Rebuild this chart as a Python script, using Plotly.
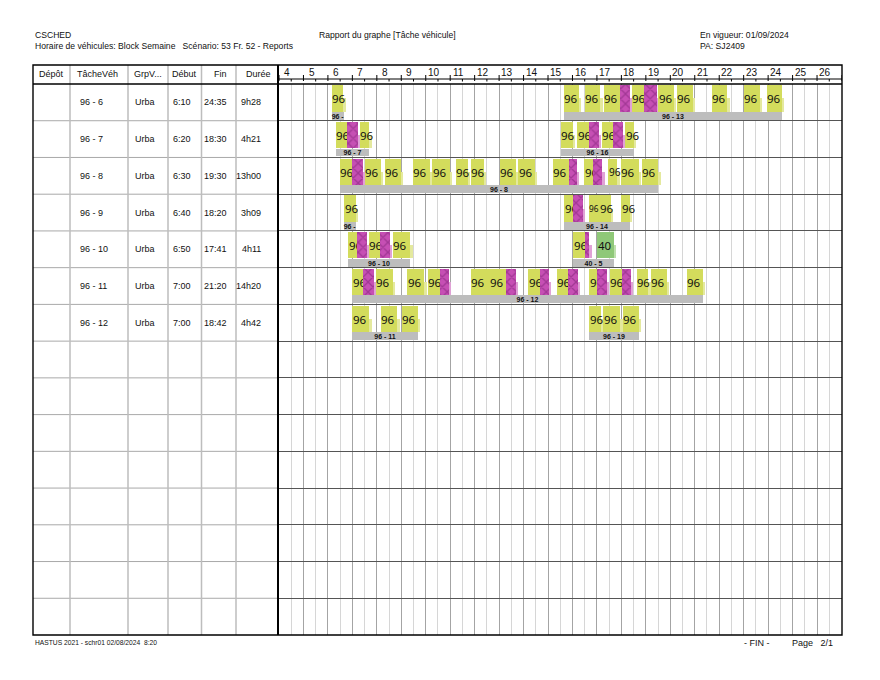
import plotly.graph_objects as go

W, H = 880, 680

# ---------------- text data ----------------
title_left = "CSCHED"
subtitle_left = "Horaire de véhicules: Block Semaine\u00a0\u00a0\u00a0Scénario: 53 Fr. 52 - Reports"
title_center = "Rapport du graphe [Tâche véhicule]"
title_right = "En vigueur: 01/09/2024"
subtitle_right = "PA: SJ2409"
footer_left = "HASTUS 2021 - schr01 02/08/2024\u00a0\u00a08:20"
footer_fin = "- FIN -"
footer_page = "Page\u00a0\u00a0\u00a02/1"

col_headers = ["Dépôt", "TâcheVéh", "GrpV...", "Début", "Fin", "Durée"]
depots = ["", "", "", "", "", "", ""]
taches = ["96 - 6", "96 - 7", "96 - 8", "96 - 9", "96 - 10", "96 - 11", "96 - 12"]
groupes = ["Urba", "Urba", "Urba", "Urba", "Urba", "Urba", "Urba"]
debuts = ["6:10", "6:20", "6:30", "6:40", "6:50", "7:00", "7:00"]
fins = ["24:35", "18:30", "19:30", "18:20", "17:41", "21:20", "18:42"]
durees = ["9h28", "4h21", "13h00", "3h09", "4h11", "14h20", "4h42"]

hour_labels = list(range(4, 27))
x_min, x_max = 4, 27
n_rows = 15

# trips per vehicle block: (start, end, line) ; line "" = haut-le-pied (hatched)
trips_96_6 = [("6:10", "6:38", "96"), ("15:38", "16:16", "96"), ("16:31", "17:08", "96"),
              ("17:17", "17:57", "96"), ("17:57", "18:22", ""), ("18:26", "18:56", "96"),
              ("18:56", "19:27", ""), ("19:31", "20:08", "96"), ("20:16", "20:55", "96"),
              ("21:42", "22:20", "96"), ("23:01", "23:40", "96"), ("23:57", "24:34", "96")]
trips_96_7 = [("6:20", "6:47", "96"), ("6:47", "7:14", ""), ("7:19", "7:41", "96"),
              ("15:31", "16:01", "96"), ("16:12", "16:41", "96"), ("16:41", "17:04", ""),
              ("17:12", "17:40", "96"), ("17:40", "18:04", ""), ("18:10", "18:30", "96")]
trips_96_8 = [("6:30", "6:58", "96"), ("6:58", "7:25", ""), ("7:31", "8:10", "96"),
              ("8:20", "8:59", "96"), ("9:29", "10:11", "96"), ("10:16", "10:59", "96"),
              ("11:14", "11:43", "96"), ("11:51", "12:22", "96"), ("13:01", "13:41", "96"),
              ("13:47", "14:28", "96"), ("15:11", "15:52", "96"), ("15:52", "16:11", ""),
              ("16:29", "16:51", "96"), ("16:51", "17:13", ""), ("17:28", "17:50", "96"),
              ("17:59", "18:42", "96"), ("18:50", "19:30", "96")]
trips_96_9 = [("6:40", "7:08", "96"), ("15:40", "16:01", "96"), ("16:01", "16:25", ""),
              ("16:40", "17:04", "96"), ("17:06", "17:34", "96"), ("18:00", "18:20", "96")]
trips_96_10 = [("6:50", "7:12", "96"), ("7:12", "7:37", ""), ("7:41", "8:08", "96"),
               ("8:08", "8:32", ""), ("8:40", "9:22", "96"), ("16:02", "16:31", "96"),
               ("16:31", "16:41", ""), ("17:01", "17:41", "40")]
trips_96_11 = [("7:00", "7:27", "96"), ("7:27", "7:53", ""), ("7:58", "8:39", "96"),
               ("9:15", "9:56", "96"), ("10:05", "10:34", "96"), ("10:34", "10:57", ""),
               ("11:51", "12:34", "96"), ("12:36", "13:17", "96"), ("13:17", "13:41", ""),
               ("14:12", "14:40", "96"), ("14:40", "15:02", ""), ("15:22", "15:50", "96"),
               ("15:50", "16:13", ""), ("16:41", "17:01", "96"), ("17:01", "17:24", ""),
               ("17:32", "18:01", "96"), ("18:01", "18:23", ""), ("18:38", "19:06", "96"),
               ("19:12", "19:52", "96"), ("20:41", "21:20", "96")]
trips_96_12 = [("7:00", "7:41", "96"), ("8:10", "8:50", "96"), ("9:01", "9:40", "96"),
               ("16:41", "17:10", "96"), ("17:16", "17:57", "96"), ("18:04", "18:42", "96")]

# route blocks (grey bars): (start, end, label)
pieces_96_6 = [("6:10", "6:40", "96 -"), ("15:38", "24:35", "96 - 13")]
pieces_96_7 = [("6:20", "7:41", "96 - 7"), ("15:31", "18:30", "96 - 16")]
pieces_96_8 = [("6:30", "19:30", "96 - 8")]
pieces_96_9 = [("6:40", "7:09", "96 -"), ("15:40", "18:20", "96 - 14")]
pieces_96_10 = [("6:50", "9:22", "96 - 10"), ("16:02", "17:41", "40 - 5")]
pieces_96_11 = [("7:00", "21:20", "96 - 12")]
pieces_96_12 = [("7:00", "9:40", "96 - 11"), ("16:41", "18:42", "96 - 19")]

trips = [trips_96_6, trips_96_7, trips_96_8, trips_96_9, trips_96_10, trips_96_11, trips_96_12]
pieces = [pieces_96_6, pieces_96_7, pieces_96_8, pieces_96_9, pieces_96_10, pieces_96_11, pieces_96_12]

# ---------------- styles ----------------
ARIAL = "Liberation Sans, Arial, sans-serif"
NARROW = "Liberation Sans Narrow, Liberation Sans, Arial, sans-serif"
BLOCKFONT = "Noto Sans, Open Sans, sans-serif"
COL = {"96": "#d3dc5c", "40": "#8fc878", "": "#c64fb4"}
SHADOW = {"96": "#e4e99e", "40": "#bfe0ae", "": "#e0a2d6"}
GREY = "#bdbdbd"
CLEAR = "rgba(0,0,0,0)"
BLOCK_FONT_SIZE = 11.5

TOP_PX, BOT_PX = 84, 635
LEFT_PX, RIGHT_PX = 279, 841.5
PX_PER_HOUR = (RIGHT_PX - LEFT_PX) / (x_max - x_min)
TEXT_SHIFT = 0.11  # hours, compensates the inner text padding of bars


def px(x):
    return x / W


def py(y):
    return 1 - y / H


def hrs(t):
    h, m = t.split(":")
    return int(h) + int(m) / 60


fig = go.Figure()

# shadows
sh_y, sh_base, sh_len, sh_col = [], [], [], []
for r, row in enumerate(trips):
    for s, e, k in row:
        sh_y.append(r + 0.57)
        sh_base.append(hrs(s) + 0.1)
        sh_len.append(hrs(e) - hrs(s))
        sh_col.append(SHADOW[k])
fig.add_trace(go.Bar(orientation="h", y=sh_y, base=sh_base, x=sh_len, width=0.36,
                     marker=dict(color=sh_col, line=dict(width=0)), hoverinfo="skip",
                     showlegend=False))

# grey route-block bars
g_y, g_base, g_len, g_txt = [], [], [], []
for r, row in enumerate(pieces):
    for s, e, lab in row:
        g_y.append(r + 0.865)
        g_base.append(hrs(s))
        g_len.append(hrs(e) - hrs(s))
        g_txt.append(lab)
fig.add_trace(go.Bar(orientation="h", y=g_y, base=g_base, x=g_len, width=0.215,
                     marker=dict(color=GREY, line=dict(width=0)), text=g_txt,
                     textposition="inside", insidetextanchor="middle", constraintext="none",
                     textangle=0,
                     textfont=dict(family=ARIAL, size=7, color="#111", weight="bold"),
                     hoverinfo="skip", showlegend=False))

# service trips (yellow / green), each followed by a transparent text carrier so
# that the next trip covers any overflowing label
t_y, t_base, t_len, t_txt, t_col, t_size = [], [], [], [], [], []
for r, row in enumerate(trips):
    labelled = [tr for tr in row if tr[2] != ""]
    for i, (s, e, k) in enumerate(labelled):
        size = BLOCK_FONT_SIZE
        if i + 1 < len(labelled):
            avail = (hrs(labelled[i + 1][0]) - hrs(s)) * PX_PER_HOUR - 1.0
            size = min(size, avail / 1.16)
        t_y += [r + 0.39, r + 0.39]
        t_base += [hrs(s), hrs(s) - TEXT_SHIFT]
        t_len += [hrs(e) - hrs(s), hrs(e) - hrs(s) + TEXT_SHIFT]
        t_txt += ["", k]
        t_col += [COL[k], CLEAR]
        t_size += [size, size]
fig.add_trace(go.Bar(orientation="h", y=t_y, base=t_base, x=t_len, width=0.72,
                     marker=dict(color=t_col, line=dict(width=0)), text=t_txt,
                     textposition="inside", insidetextanchor="start",
                     constraintext="none", textangle=0,
                     textfont=dict(family=BLOCKFONT, size=t_size, color="#111"),
                     hoverinfo="skip", showlegend=False))

# deadhead trips (hatched magenta)
m_y, m_base, m_len = [], [], []
for r, row in enumerate(trips):
    for s, e, k in row:
        if k != "":
            continue
        m_y.append(r + 0.39)
        m_base.append(hrs(s))
        m_len.append(hrs(e) - hrs(s))
fig.add_trace(go.Bar(orientation="h", y=m_y, base=m_base, x=m_len, width=0.72,
                     marker=dict(color=COL[""], line=dict(width=0),
                                 pattern=dict(shape="x", fgcolor="#7d2275", bgcolor=COL[""],
                                              size=7, solidity=0.35, fillmode="overlay")),
                     hoverinfo="skip", showlegend=False))

# ---------------- shapes ----------------
shapes = []


def pline(x0, y0, x1, y1, color="black", width=1):
    shapes.append(dict(type="line", xref="paper", yref="paper", x0=px(x0), y0=py(y0),
                       x1=px(x1), y1=py(y1), line=dict(color=color, width=width)))


row_h = (BOT_PX - TOP_PX) / n_rows
for k in range(1, n_rows):
    yy = TOP_PX + k * row_h
    pline(33, yy, 278, yy, "#a9a9a9", 1)
for xx in [70, 128, 168, 201.5, 236]:
    pline(xx, 65, xx, BOT_PX, "#bdbdbd", 1.5)
pline(LEFT_PX, 79, 842, 79, "black", 1)
for h in hour_labels + [27]:
    shapes.append(dict(type="line", xref="x", yref="paper", x0=h, x1=h, y0=py(75), y1=py(81),
                       line=dict(color="black", width=1)))
for h in hour_labels:
    shapes.append(dict(type="line", xref="x", yref="paper", x0=h + 0.5, x1=h + 0.5,
                       y0=py(79), y1=py(81.5), line=dict(color="black", width=1)))
pline(33, TOP_PX, 842, TOP_PX, "black", 1.6)
pline(278, 65, 278, BOT_PX, "black", 2)
shapes.append(dict(type="rect", xref="paper", yref="paper", x0=px(33), x1=px(842),
                   y0=py(BOT_PX), y1=py(65), line=dict(color="black", width=1.4)))

# ---------------- annotations ----------------
ann = []


def ptext(x, y, text, anchor="left", size=9, family=ARIAL, color="#111"):
    ann.append(dict(xref="paper", yref="paper", x=px(x), y=py(y), text=text,
                    xanchor=anchor, yanchor="middle", showarrow=False,
                    font=dict(family=family, size=size, color=color)))


ptext(33, 34.5, title_left, size=8.6)
ptext(33, 46.5, subtitle_left, size=8.6)
ptext(387.5, 34.5, title_center, "center", size=8.6)
ptext(698, 34.5, title_right, size=8.6)
ptext(698, 46.5, subtitle_right, size=8.6)

header_pos = [(51.5, "center"), (75, "left"), (132, "left"), (184.5, "center"),
              (229, "right"), (273, "right")]
for (xx, anc), txt in zip(header_pos, col_headers):
    ptext(xx, 73.5, txt, anc)

body_pos = [(51.5, "center"), (78, "left"), (133, "left"), (193, "right"),
            (215, "center"), (263, "right")]
cols = [depots, taches, groupes, debuts, fins, durees]
for r in range(len(taches)):
    yy = TOP_PX + (r + 0.5) * row_h
    for (xx, anc), col in zip(body_pos, cols):
        if col[r]:
            ptext(xx, yy, col[r], anc)

for h in hour_labels:
    ann.append(dict(xref="x", yref="paper", x=h + 0.33, y=py(72.5), text=str(h),
                    xanchor="center", yanchor="middle", showarrow=False,
                    font=dict(family=ARIAL, size=10, color="#111")))

ptext(33, 642.5, footer_left, size=6.7, family=NARROW)
ptext(757, 642.5, footer_fin, "center", size=9, family=NARROW)
ptext(790, 642.5, footer_page, "left", size=9, family=NARROW)

fig.update_layout(
    width=W, height=H, margin=dict(l=0, r=0, t=0, b=0, pad=0),
    paper_bgcolor="white", plot_bgcolor="white",
    barmode="overlay", bargap=0, showlegend=False,
    xaxis=dict(domain=[px(LEFT_PX), px(RIGHT_PX)], range=[x_min, x_max],
               showgrid=True, gridcolor="#a4a4a4", gridwidth=1, dtick=1, tick0=4,
               minor=dict(dtick=0.5, tick0=4, showgrid=True, gridcolor="#d6d6d6", gridwidth=1),
               showticklabels=False, zeroline=False, showline=False, ticks="",
               fixedrange=True),
    yaxis=dict(domain=[py(BOT_PX), py(TOP_PX)], range=[n_rows, 0],
               tickmode="array", tickvals=list(range(1, n_rows)),
               showgrid=True, gridcolor="#555555", gridwidth=1,
               showticklabels=False, zeroline=False, showline=False, ticks="",
               fixedrange=True),
    shapes=shapes, annotations=ann,
)

fig.write_html("out.html", config={"displayModeBar": False})
